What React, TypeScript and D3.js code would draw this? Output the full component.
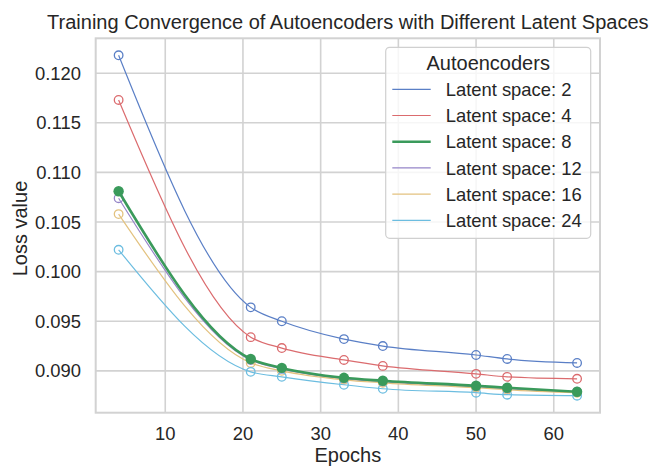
import React from 'react'
import * as d3 from 'd3'

const epochs = [4, 21, 25, 33, 38, 50, 54, 63]
const latentSizes = [2, 4, 8, 12, 16, 24]
const loss2 = [0.1218, 0.0964, 0.095, 0.0932, 0.0925, 0.0916, 0.0912, 0.0908]
const loss4 = [0.1173, 0.0934, 0.0923, 0.0911, 0.0905, 0.0897, 0.0894, 0.0892]
const loss8 = [0.1081, 0.0912, 0.0903, 0.0893, 0.089, 0.0885, 0.0883, 0.0879]
const loss12 = [0.1074, 0.0911, 0.0902, 0.0892, 0.0889, 0.0884, 0.0882, 0.0879]
const loss16 = [0.1058, 0.0908, 0.09, 0.0891, 0.0888, 0.0883, 0.0881, 0.0878]
const loss24 = [0.1022, 0.0899, 0.0894, 0.0886, 0.0882, 0.0878, 0.0876, 0.0875]
const xTicks = [10, 20, 30, 40, 50, 60]
const yTicks = [0.09, 0.095, 0.1, 0.105, 0.11, 0.115, 0.12]

const colors = ['#5a7fc6', '#db6b6e', '#3a9a5b', '#9585c8', '#e3c27f', '#6cbde0']
const allLoss = [loss2, loss4, loss8, loss12, loss16, loss24]

const W = 656
const H = 467
const plot = { left: 95.7, right: 600, top: 38.3, bottom: 412.7 }
const font = '"Liberation Sans", Arial, sans-serif'
const ink = '#262626'

// matplotlib-like 5% margins
const pad = (lo: number, hi: number): [number, number] => {
  const m = (hi - lo) * 0.05
  return [lo - m, hi + m]
}

export default function App() {
  const [x0, x1] = d3.extent(epochs) as [number, number]
  const flat = allLoss.flat()
  const [y0, y1] = d3.extent(flat) as [number, number]

  const x = d3.scaleLinear().domain(pad(x0, x1)).range([plot.left, plot.right])
  const y = d3.scaleLinear().domain(pad(y0, y1)).range([plot.bottom, plot.top])

  const line = d3
    .line<number>()
    .x((_, i) => x(epochs[i]))
    .y(d => y(d))
    .curve(d3.curveMonotoneX)

  const cx = (plot.left + plot.right) / 2
  const cy = (plot.top + plot.bottom) / 2

  // legend box
  const lg = { x: 385.7, y: 47.3, w: 205, h: 191 }
  const rowY = (i: number) => 89.3 + i * 26.2

  // draw green (8) last so it sits on top
  const order = [0, 1, 3, 4, 5, 2]

  return (
    <div style={{ position: 'absolute', left: 0, top: 0 }}>
      <svg width={W} height={H} style={{ display: 'block', background: '#fff' }} fontFamily={font}>
        <text x={cx} y={29} textAnchor="middle" fontSize={20} fill={ink}>
          Training Convergence of Autoencoders with Different Latent Spaces
        </text>

        {/* grid */}
        {xTicks.map(t => (
          <line key={'gx' + t} x1={x(t)} x2={x(t)} y1={plot.top} y2={plot.bottom} stroke="#d2d2d2" strokeWidth={1.6} />
        ))}
        {yTicks.map(t => (
          <line key={'gy' + t} x1={plot.left} x2={plot.right} y1={y(t)} y2={y(t)} stroke="#d2d2d2" strokeWidth={1.6} />
        ))}
        <rect
          x={plot.left}
          y={plot.top}
          width={plot.right - plot.left}
          height={plot.bottom - plot.top}
          fill="none"
          stroke="#d2d2d2"
          strokeWidth={2}
        />

        {/* tick labels */}
        {xTicks.map(t => (
          <text key={'tx' + t} x={x(t)} y={440} textAnchor="middle" fontSize={18.4} fill={ink}>
            {t}
          </text>
        ))}
        {yTicks.map(t => (
          <text key={'ty' + t} x={81} y={y(t) + 6.6} textAnchor="end" fontSize={18.4} fill={ink}>
            {d3.format('.3f')(t)}
          </text>
        ))}

        <text x={cx} y={461.5} textAnchor="middle" fontSize={20} fill={ink}>
          Epochs
        </text>
        <text transform={`translate(27,${cy + 3}) rotate(-90)`} textAnchor="middle" fontSize={20} fill={ink}>
          Loss value
        </text>

        {/* series */}
        {order.map(i => {
          const vals = allLoss[i]
          const thick = i === 2
          return (
            <g key={'s' + i}>
              <path d={line(vals) || ''} fill="none" stroke={colors[i]} strokeWidth={thick ? 2.6 : 1.2} />
              {vals.map((v, j) =>
                thick ? (
                  <circle key={j} cx={x(epochs[j])} cy={y(v)} r={5.2} fill={colors[i]} />
                ) : (
                  <circle key={j} cx={x(epochs[j])} cy={y(v)} r={4.3} fill="none" stroke={colors[i]} strokeWidth={1.3} />
                )
              )}
            </g>
          )
        })}

        {/* legend */}
        <rect
          x={lg.x}
          y={lg.y}
          width={lg.w}
          height={lg.h}
          rx={4}
          fill="#fff"
          fillOpacity={0.8}
          stroke="#d0d0d0"
          strokeWidth={1.2}
        />
        <text x={lg.x + lg.w / 2} y={69.5} textAnchor="middle" fontSize={20} fill={ink}>
          Autoencoders
        </text>
        {latentSizes.map((s, i) => (
          <g key={'lg' + s}>
            <line
              x1={392.3}
              x2={430.7}
              y1={rowY(i)}
              y2={rowY(i)}
              stroke={colors[i]}
              strokeWidth={i === 2 ? 2.6 : 1.2}
            />
            <text x={445.7} y={rowY(i) + 6.7} fontSize={18.4} fill={ink}>
              {`Latent space: ${s}`}
            </text>
          </g>
        ))}
      </svg>
    </div>
  )
}
